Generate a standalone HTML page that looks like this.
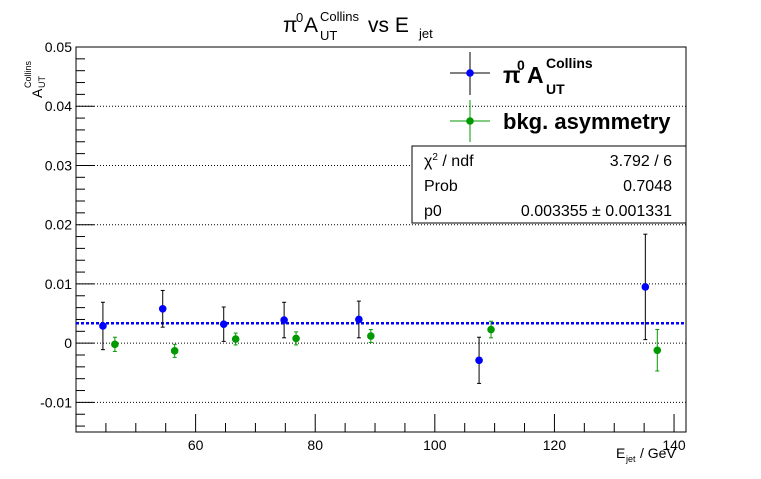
<!DOCTYPE html>
<html><head><meta charset="utf-8"><style>
body{margin:0;background:#fff;}
svg{display:block;font-family:"Liberation Sans",sans-serif;}
</style></head><body>
<svg id="chart" width="761" height="479" viewBox="0 0 761 479">
<rect x="0" y="0" width="761" height="479" fill="#fff"/>
<g>
<text x="283" y="32" font-size="21">π</text>
<text x="296" y="22" font-size="13">0</text>
<text x="304" y="32" font-size="21">A</text>
<text x="320" y="21" font-size="13">Collins</text>
<text x="320" y="40" font-size="13">UT</text>
<text x="368" y="32" font-size="21">vs E</text>
<text x="419" y="38" font-size="13">jet</text>
</g>
<g id="grid"></g>
<g id="axes"></g>
<g id="marks"></g>
<g>
<text transform="translate(42,98) rotate(-90)" font-size="14">A</text>
<text transform="translate(31,88) rotate(-90)" font-size="9">Collins</text>
<text transform="translate(45,88) rotate(-90)" font-size="9">UT</text>
</g>
<g>
<text x="616" y="458" font-size="14">E</text>
<text x="626" y="462" font-size="9">jet</text>
<text x="640" y="458" font-size="14">/ GeV</text>
</g>
<g>
<line x1="450" y1="73" x2="490" y2="73" stroke="#000"/><line x1="470" y1="52" x2="470" y2="95" stroke="#000"/>
<circle cx="470" cy="73" r="3.8" fill="#0000ff"/>
<g font-weight="bold">
<text x="503" y="83" font-size="23">π</text>
<text x="517" y="70" font-size="14">0</text>
<text x="527" y="83" font-size="23">A</text>
<text x="546" y="68" font-size="14">Collins</text>
<text x="546" y="94" font-size="14">UT</text>
</g>
<line x1="450" y1="121" x2="490" y2="121" stroke="#009900"/><line x1="470" y1="100" x2="470" y2="142" stroke="#009900"/>
<circle cx="470" cy="121" r="3.8" fill="#009900"/>
<text x="503" y="129" font-size="22" font-weight="bold">bkg. asymmetry</text>
</g>
<g>
<rect x="412" y="146" width="274" height="77" fill="#fff" stroke="#000"/>
<text x="424" y="166" font-size="16">χ<tspan font-size="10" dy="-6">2</tspan><tspan dy="6"> / ndf</tspan></text>
<text x="672" y="166" font-size="16" text-anchor="end">3.792 / 6</text>
<text x="424" y="191" font-size="16">Prob</text>
<text x="672" y="191" font-size="16" text-anchor="end">0.7048</text>
<text x="424" y="216" font-size="16">p0</text>
<text x="672" y="216" font-size="16" text-anchor="end">0.003355 ± 0.001331</text>
</g>
</svg>
<script>
const blueX=[44.5,54.5,64.7,74.8,87.3,107.4,135.2];
const blueY=[0.0029,0.0058,0.0032,0.0039,0.0040,-0.0029,0.0095];
const blueErr=[0.0040,0.0031,0.0029,0.0030,0.0031,0.0039,0.0089];
const greenX=[46.5,56.5,66.7,76.8,89.3,109.4,137.2];
const greenY=[-0.0002,-0.0013,0.0007,0.0008,0.0012,0.0023,-0.0012];
const greenErr=[0.0012,0.0011,0.0010,0.0011,0.0011,0.0014,0.0035];
const fitP0=0.003355;
const yTicks=[-0.01,0,0.01,0.02,0.03,0.04,0.05];
const yTickLabels=["-0.01","0","0.01","0.02","0.03","0.04","0.05"];
const xTicks=[60,80,100,120,140];
const xTickLabels=["60","80","100","120","140"];
const L=76,R=686,T=47,B=432,xmin=40,xmax=142,ymin=-0.015,ymax=0.05;
const sx=v=>L+(v-xmin)/(xmax-xmin)*(R-L);
const sy=v=>B-(v-ymin)/(ymax-ymin)*(B-T);
const NS="http://www.w3.org/2000/svg";
function mk(tag,attrs,parent){const e=document.createElementNS(NS,tag);for(const k in attrs)e.setAttribute(k,attrs[k]);document.getElementById(parent).appendChild(e);return e;}
yTicks.forEach((v,i)=>{
  if(v!==ymax){const g=mk('line',{x1:L,x2:R,y1:sy(v),y2:sy(v),stroke:'#000','stroke-dasharray':'1,2'},'grid');
  
  }
  const t=mk('text',{x:L-4,y:sy(v)+5,'font-size':14,'text-anchor':'end'},'axes');t.textContent=yTickLabels[i];
  
  
});
for(let v=-0.014;v<=0.05001;v+=0.002){const y=sy(v);const major=Math.abs(v*100-Math.round(v*100))<1e-6;mk('line',{x1:L,x2:L+(major?18:9),y1:y,y2:y,stroke:'#000'},'axes');}
for(let v=45;v<=140;v+=5){const x=sx(v);const major=v%20===0;mk('line',{x1:x,x2:x,y1:B,y2:B-(major?18:9),stroke:'#000'},'axes');}
xTicks.forEach((v,i)=>{const t=mk('text',{x:sx(v),y:B+18,'font-size':14,'text-anchor':'middle'},'axes');t.textContent=xTickLabels[i];
  
  });
const fr=mk('rect',{x:L,y:T,width:R-L,height:B-T,fill:'none',stroke:'#000'},'axes');


const fit=mk('line',{x1:L,x2:R,y1:sy(fitP0),y2:sy(fitP0),stroke:'#0000ff','stroke-width':2.5,'stroke-dasharray':'3,2'},'marks');


function series(xs,ys,es,col,ecol,name){
  xs.forEach((x,i)=>{
    const px=sx(x),py=sy(ys[i]),y1=sy(ys[i]+es[i]),y2=sy(ys[i]-es[i]);
    mk('line',{x1:px,x2:px,y1:y1,y2:y2,stroke:ecol},'marks');
    mk('line',{x1:px-2,x2:px+2,y1:y1,y2:y1,stroke:ecol},'marks');
    mk('line',{x1:px-2,x2:px+2,y1:y2,y2:y2,stroke:ecol},'marks');
    const p=mk('circle',{cx:px,cy:py,r:3.8,fill:col},'marks');
    
    
  });
}
series(blueX,blueY,blueErr,'#0000ff','#000','pi0-point');
series(greenX,greenY,greenErr,'#009900','#009900','bkg-point');
</script>
</body></html>
